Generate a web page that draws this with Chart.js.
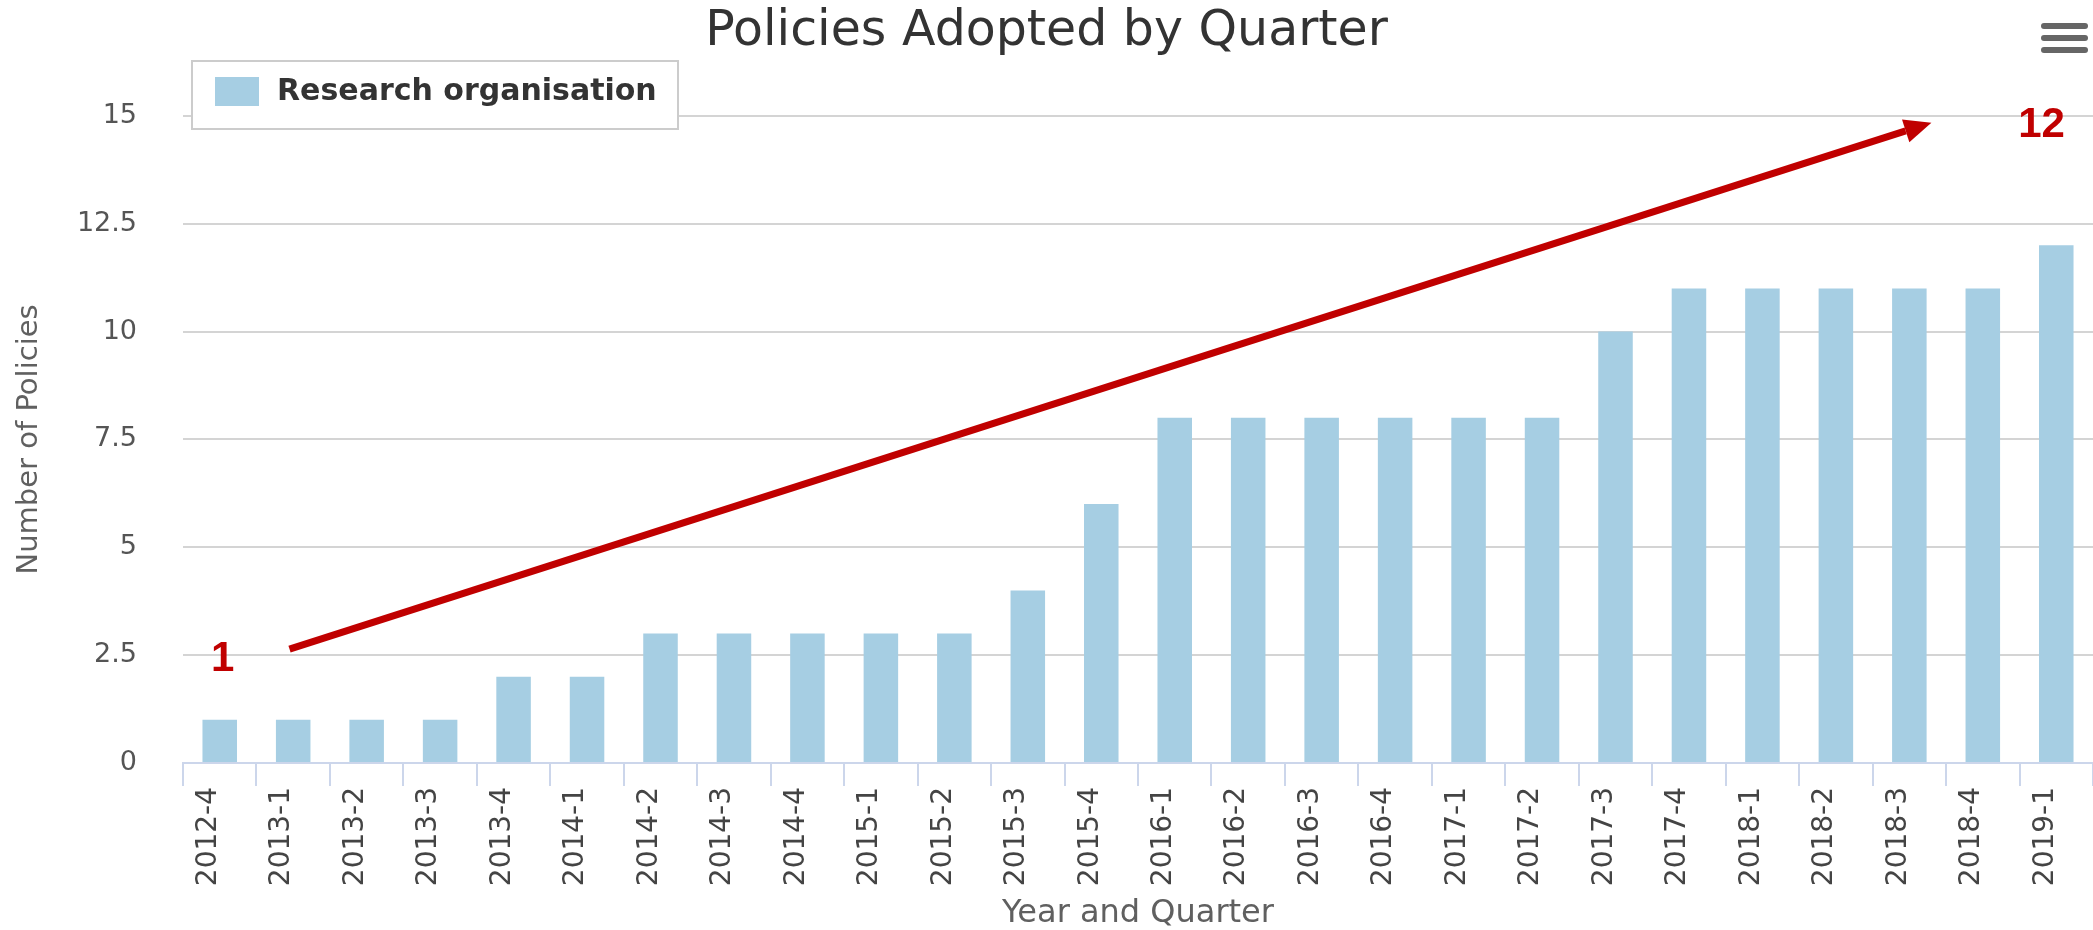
<!DOCTYPE html>
<html>
<head>
<meta charset="utf-8">
<title>Policies Adopted by Quarter</title>
<script src="https://cdn.jsdelivr.net/npm/chart.js@4/dist/chart.umd.min.js"></script>
<style>
  html, body { margin: 0; padding: 0; background: #fff; overflow: hidden; }
  canvas { display: block; }
</style>
</head>
<body>
<canvas id="chart" width="2093" height="930"></canvas>
<script>
// ── data ────────────────────────────────────────────────────────────
const QUARTERS = [
  "2012-4", "2013-1", "2013-2", "2013-3", "2013-4",
  "2014-1", "2014-2", "2014-3", "2014-4",
  "2015-1", "2015-2", "2015-3", "2015-4",
  "2016-1", "2016-2", "2016-3", "2016-4",
  "2017-1", "2017-2", "2017-3", "2017-4",
  "2018-1", "2018-2", "2018-3", "2018-4",
  "2019-1",
];
const POLICIES = [1, 1, 1, 1, 2, 2, 3, 3, 3, 3, 3, 4, 6, 8, 8, 8, 8, 8, 8, 10, 11, 11, 11, 11, 11, 12];
const SERIES_NAME = "Research organisation";

const Y_MIN = 0;
const Y_MAX = 15;
const Y_STEP = 2.5;

// red trend annotation, in data units (category index, value)
const ARROW_FROM = [0.95, 2.64];
const ARROW_TO = [23.3, 14.84];
const NOTES = [
  { text: "1", at: [0.04, 2.39] },
  { text: "12", at: [24.8, 14.78] },
];

// ── look ────────────────────────────────────────────────────────────
const FONT = "'DejaVu Sans', sans-serif";
const BAR_COL = "#a6cee3";
const AXIS_COL = "#ccd6eb";
const GRID_COL = "#d4d4d4";
const TEXT_COL = "#606060";
const RED = "#c00000";

// legend box + menu icon + arrow, drawn on top of the plot
const overlay = {
  id: "overlay",
  afterDraw(chart) {
    const { ctx, scales: { x, y } } = chart;
    ctx.save();

    // floating legend
    ctx.fillStyle = "#fff";
    ctx.fillRect(192, 61, 486, 68);
    ctx.strokeStyle = "#cccccc";
    ctx.lineWidth = 2;
    ctx.strokeRect(192, 61, 486, 68);
    ctx.fillStyle = BAR_COL;
    ctx.fillRect(215, 77, 44, 29);
    ctx.fillStyle = "#333333";
    ctx.font = "bold 30px " + FONT;
    ctx.textAlign = "left";
    ctx.textBaseline = "middle";
    ctx.fillText(chart.data.datasets[0].label, 277, 92);

    // hamburger
    ctx.strokeStyle = "#666666";
    ctx.lineWidth = 6;
    ctx.lineCap = "round";
    [26, 38, 50].forEach((yy) => {
      ctx.beginPath();
      ctx.moveTo(2044, yy);
      ctx.lineTo(2085, yy);
      ctx.stroke();
    });

    // arrow
    const x0 = x.getPixelForValue(ARROW_FROM[0]);
    const y0 = y.getPixelForValue(ARROW_FROM[1]);
    const x1 = x.getPixelForValue(ARROW_TO[0]);
    const y1 = y.getPixelForValue(ARROW_TO[1]);
    const ang = Math.atan2(y1 - y0, x1 - x0);
    const head = 27, half = 12;
    const bx = x1 - head * Math.cos(ang);
    const by = y1 - head * Math.sin(ang);
    ctx.strokeStyle = RED;
    ctx.lineWidth = 7;
    ctx.lineCap = "butt";
    ctx.beginPath();
    ctx.moveTo(x0, y0);
    ctx.lineTo(bx, by);
    ctx.stroke();
    ctx.fillStyle = RED;
    ctx.beginPath();
    ctx.moveTo(x1, y1);
    ctx.lineTo(bx + half * Math.sin(ang), by - half * Math.cos(ang));
    ctx.lineTo(bx - half * Math.sin(ang), by + half * Math.cos(ang));
    ctx.closePath();
    ctx.fill();

    // end labels
    ctx.font = "bold 42px 'Liberation Sans', sans-serif";
    ctx.textAlign = "center";
    ctx.textBaseline = "middle";
    NOTES.forEach((n) => {
      ctx.fillText(n.text, x.getPixelForValue(n.at[0]), y.getPixelForValue(n.at[1]));
    });

    ctx.restore();
  },
};

new Chart(document.getElementById("chart"), {
  type: "bar",
  data: {
    labels: QUARTERS,
    datasets: [
      {
        label: SERIES_NAME,
        data: POLICIES,
        backgroundColor: BAR_COL,
        borderWidth: 0,
        barPercentage: 0.47,
        categoryPercentage: 1,
      },
    ],
  },
  options: {
    responsive: false,
    animation: false,
    layout: { padding: 0 },
    plugins: {
      legend: { display: false },
      tooltip: { enabled: false },
      title: {
        display: true,
        text: "Policies Adopted by Quarter",
        color: "#333333",
        font: { family: FONT, size: 49, weight: "normal", lineHeight: 1.2 },
        padding: { top: 3, bottom: 54 },
      },
    },
    scales: {
      x: {
        afterFit: (s) => { s.height = 167; },
        border: { display: true, color: AXIS_COL, width: 2 },
        grid: {
          offset: true,
          drawOnChartArea: false,
          drawTicks: true,
          tickLength: 23,
          color: AXIS_COL,
          lineWidth: 2,
        },
        ticks: {
          autoSkip: false,
          minRotation: 90,
          maxRotation: 90,
          padding: 1,
          labelOffset: -11,
          color: "#444444",
          font: { family: FONT, size: 28 },
        },
        title: {
          display: true,
          text: "Year and Quarter",
          color: TEXT_COL,
          font: { family: FONT, size: 32, lineHeight: 1 },
          padding: { top: 0, bottom: 0 },
        },
      },
      y: {
        min: Y_MIN,
        max: Y_MAX,
        afterFit: (s) => { s.width = 183; },
        border: { display: false },
        grid: {
          drawTicks: false,
          lineWidth: 2,
          color: (c) => (c.tick && c.tick.value === 0 ? "rgba(0,0,0,0)" : GRID_COL),
        },
        ticks: {
          stepSize: Y_STEP,
          padding: 46,
          color: "#555555",
          font: { family: FONT, size: 27 },
        },
        title: {
          display: true,
          text: "Number of Policies",
          color: TEXT_COL,
          font: { family: FONT, size: 29, lineHeight: 1 },
          padding: { top: 15, bottom: 0 },
        },
      },
    },
  },
  plugins: [overlay],
});
</script>
</body>
</html>
